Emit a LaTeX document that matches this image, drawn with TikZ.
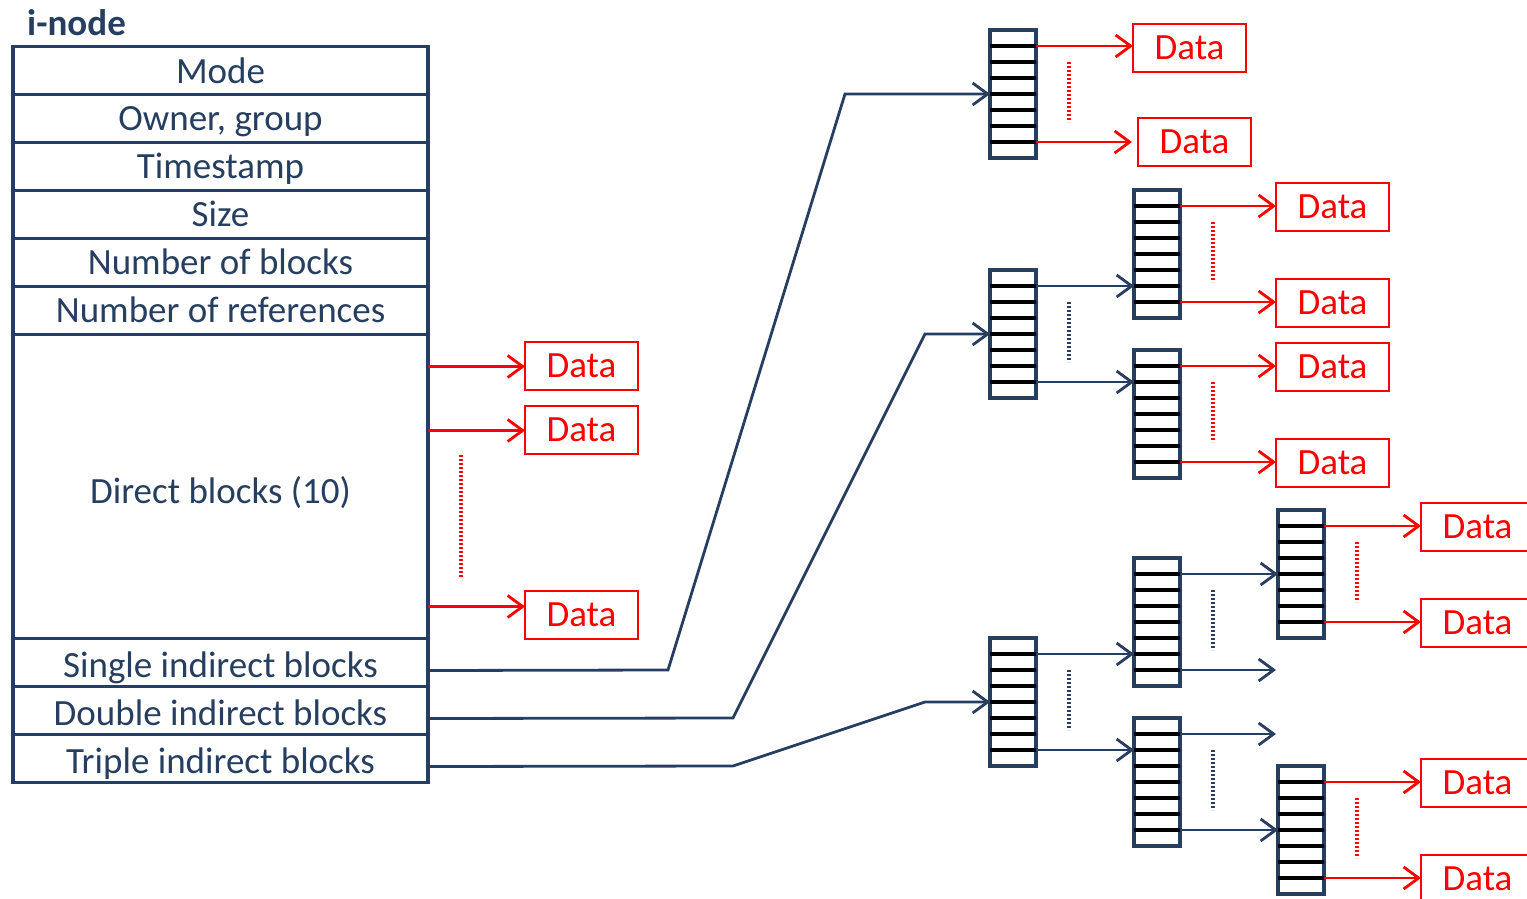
\documentclass[tikz,border=0pt]{standalone}
\usepackage{fontspec}
\setmainfont{Carlito}
\usetikzlibrary{arrows.meta,calc}
\definecolor{navy}{RGB}{38,62,96}
\definecolor{dred}{RGB}{255,0,0}
\newcommand{\fs}{\fontsize{37}{42}\selectfont}
\tikzset{
  row/.style={draw=navy, line width=3.5pt, minimum width=415pt, minimum height=48pt,
    inner sep=0pt, outer sep=0pt, text=navy, anchor=north west, font=\fs,
    text height=28pt, text depth=5pt},
  lowrow/.style={row, text height=32pt, text depth=2pt},
  databox/.style={draw=dred, line width=2.8pt, minimum width=113pt, minimum height=48pt,
    inner sep=0pt, outer sep=0pt, text=dred, anchor=north west, font=\fs},
  stackbox/.style={draw=navy, line width=4.5pt, minimum width=46pt, minimum height=128pt,
    inner sep=0pt, outer sep=0pt, anchor=north west},
  cellline/.style={black, line width=3.3pt},
  navyarrow/.style={draw=navy, line width=2.8pt, -{Straight Barb[length=15pt,width=22pt]}},
  redarrow/.style={draw=dred, line width=2.8pt, -{Straight Barb[length=15pt,width=22pt]}},
  dotline/.style={line width=3.3pt, dash pattern=on 2pt off 2pt},
}
\newcommand{\blockstack}[4]{%
  \node[stackbox] (#1) at (#2,#3) {};
  \foreach \k in {1,...,7}{
    \coordinate (#1-l\k) at ($(#1.north west)+(0,16*\k)$);
    \coordinate (#1-r\k) at ($(#1.north east)+(0,16*\k)$);
    \draw[cellline] (#1-l\k) -- (#1-r\k);
  }
  \draw[dotline,#4] ($(#1-r2)+(33,0)$) -- ($(#1-r6)+(33,-4)$);
}
\begin{document}
\begin{tikzpicture}[x=1pt,y=-1pt]
\useasboundingbox (0,0) rectangle (1527,899);
\clip (0,0) rectangle (1527,899);

% i-node table
\node[anchor=base west, text=navy, font=\fs\bfseries, inner sep=0pt] (title) at (27,36) {i-node};
\node[row, text height=30pt, text depth=3pt] (mode) at (13,46.5) {Mode};
\node[row] (owner) at (mode.south west) {Owner, group};
\node[row] (ts) at (owner.south west) {Timestamp};
\node[row] (size) at (ts.south west) {Size};
\node[row] (nblocks) at (size.south west) {Number of blocks};
\node[row] (nrefs) at (nblocks.south west) {Number of references};
\node[row, minimum height=304pt, text height=34pt, text depth=0pt] (direct) at (nrefs.south west) {Direct blocks (10)};
\node[lowrow] (single) at (direct.south west) {Single indirect blocks};
\node[lowrow] (double) at (single.south west) {Double indirect blocks};
\node[lowrow] (triple) at (double.south west) {Triple indirect blocks};

% direct data
\node[databox] (dd1) at (525,342) {Data};
\node[databox] (dd2) at (525,406) {Data};
\node[databox] (dd3) at (525,591) {Data};
\coordinate (ds1) at ($(direct.north east)+(0,32)$);
\coordinate (ds2) at ($(direct.north east)+(0,96)$);
\coordinate (ds3) at ($(direct.north east)+(0,272)$);
\draw[redarrow] (ds1) -- (ds1 -| dd1.west);
\draw[redarrow] (ds2) -- (ds2 -| dd2.west);
\draw[redarrow] (ds3) -- (ds3 -| dd3.west);
\draw[dotline, dred] (461,455) -- (461,578);

% block stacks
\blockstack{S1}{990}{30}{dred}
\blockstack{D1}{990}{270}{navy}
\blockstack{D2a}{1134}{190}{dred}
\blockstack{D2b}{1134}{350}{dred}
\blockstack{T1}{990}{638}{navy}
\blockstack{T2a}{1134}{558}{navy}
\blockstack{T2b}{1134}{718}{navy}
\blockstack{T3a}{1278}{510}{dred}
\blockstack{T3b}{1278}{766}{dred}

% indirect connectors from i-node
\coordinate (sa) at ($(single.east)+(0,8)$);
\coordinate (sb1) at (668,670);
\coordinate (sb2) at (845,94);
\draw[navyarrow] (sa) -- (sb1) -- (sb2) -- (S1-l4);
\coordinate (da) at ($(double.east)+(0,8)$);
\coordinate (db1) at (733,718);
\coordinate (db2) at (925,334);
\draw[navyarrow] (da) -- (db1) -- (db2) -- (D1-l4);
\coordinate (ta) at ($(triple.east)+(0,8)$);
\coordinate (tb1) at (733,766);
\coordinate (tb2) at (925,702);
\draw[navyarrow] (ta) -- (tb1) -- (tb2) -- (T1-l4);

% single indirect data
\node[databox] (s1d1) at (1133,24) {Data};
\node[databox] (s1d2) at (1138,118) {Data};
\draw[redarrow] (S1-r1) -- (S1-r1 -| s1d1.west);
\draw[redarrow] (S1-r7) -- ($(S1-r7 -| s1d2.west)+(-6,0)$);

% double indirect
\draw[navyarrow] (D1-r1) -- (D2a-l6);
\draw[navyarrow] (D1-r7) -- (D2b-l2);
\node[databox] (d2d1) at (1276,183) {Data};
\node[databox] (d2d2) at (1276,279) {Data};
\node[databox] (d2d3) at (1276,343) {Data};
\node[databox] (d2d4) at (1276,439) {Data};
\draw[redarrow] (D2a-r1) -- (D2a-r1 -| d2d1.west);
\draw[redarrow] (D2a-r7) -- (D2a-r7 -| d2d2.west);
\draw[redarrow] (D2b-r1) -- (D2b-r1 -| d2d3.west);
\draw[redarrow] (D2b-r7) -- (D2b-r7 -| d2d4.west);

% triple indirect
\draw[navyarrow] (T1-r1) -- (T2a-l6);
\draw[navyarrow] (T1-r7) -- (T2b-l2);
\draw[navyarrow] (T2a-r1) -- (T3a-l4);
\coordinate (e1) at ($(T2a-r7)+(96,0)$);
\draw[navyarrow] (T2a-r7) -- (e1);
\coordinate (e2) at ($(T2b-r1)+(96,0)$);
\draw[navyarrow] (T2b-r1) -- (e2);
\draw[navyarrow] (T2b-r7) -- (T3b-l4);
\node[databox] (t3d1) at (1421,503) {Data};
\node[databox] (t3d2) at (1421,599) {Data};
\node[databox] (t3d3) at (1421,759) {Data};
\node[databox] (t3d4) at (1421,855) {Data};
\draw[redarrow] (T3a-r1) -- (T3a-r1 -| t3d1.west);
\draw[redarrow] (T3a-r7) -- (T3a-r7 -| t3d2.west);
\draw[redarrow] (T3b-r1) -- (T3b-r1 -| t3d3.west);
\draw[redarrow] (T3b-r7) -- (T3b-r7 -| t3d4.west);
\end{tikzpicture}
\end{document}
